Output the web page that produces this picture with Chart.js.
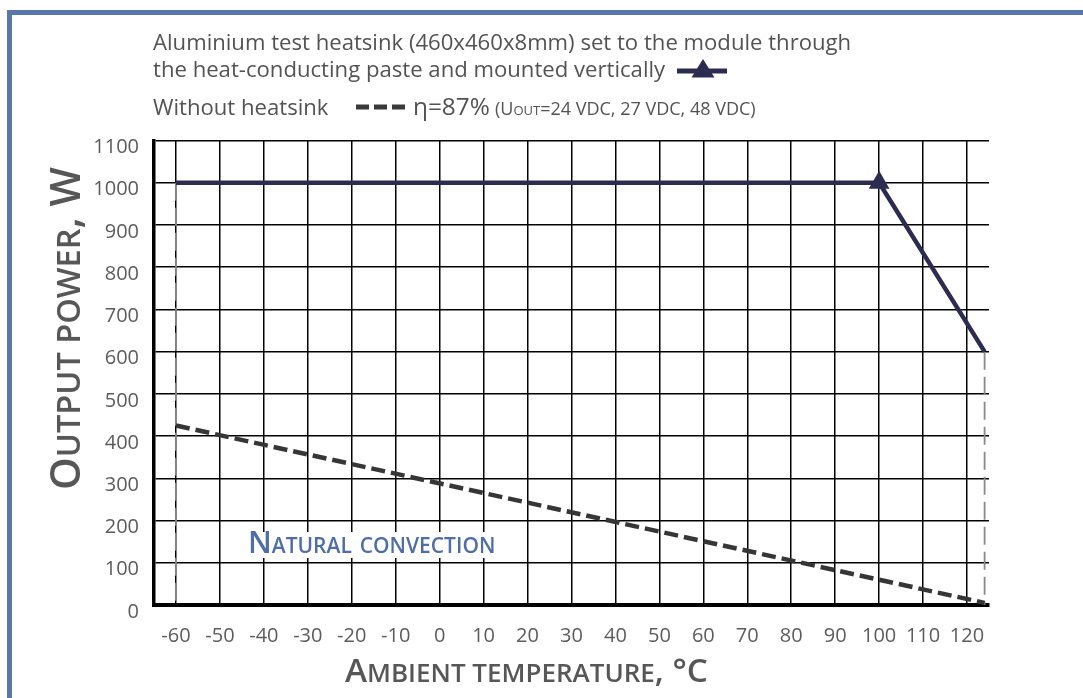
<!DOCTYPE html>
<html><head><meta charset="utf-8">
<script src="https://cdn.jsdelivr.net/npm/chart.js@4/dist/chart.umd.min.js"></script>
<style>
html,body{margin:0;padding:0;background:#fff;}
#wrap{position:relative;width:1083px;height:698px;overflow:hidden;background:#fff;}
#frame{position:absolute;left:7px;top:10px;width:2000px;height:2000px;border-left:5px solid #5877ab;border-top:5px solid #5877ab;box-sizing:border-box;}
canvas{position:absolute;left:0;top:0;}
.t{position:absolute;white-space:nowrap;font-family:'Open Sans',sans-serif;color:#535353;line-height:1;}
.mk{display:inline-block;width:0;height:0;}
.sc{font-variant:small-caps;}
.ttl{font-weight:600;color:#575757;}
.sm{font-size:0.78em;text-transform:uppercase;}
#yw{position:absolute;left:80px;top:490px;width:0;height:0;transform:rotate(-90deg);transform-origin:0 0;}
#ncbg{position:absolute;left:245px;top:532px;width:256px;height:26px;background:#fff;}
svg{position:absolute;overflow:visible;}
</style></head><body>
<div id="wrap">
<div id="frame"></div>
<canvas id="c" width="1083" height="698"></canvas>

<div class="t" id="h1">Aluminium test heatsink (460x460x8mm) set to the module through<span class="mk"></span></div>
<div class="t" id="h2">the heat-conducting paste and mounted vertically<span class="mk"></span></div>
<div class="t" id="h3">Without heatsink<span class="mk"></span></div>
<div class="t" id="h4">η=87%<span class="mk"></span></div>
<div class="t" id="h5">(U<span class="sc">out</span>=24 VDC, 27 VDC, 48 VDC)<span class="mk"></span></div>

<svg style="left:0;top:0" width="1" height="1">
  <line x1="677" y1="71" x2="727" y2="71" stroke="#2c2c50" stroke-width="5"/>
  <polygon points="703,59 691.5,77.5 714.5,77.5" fill="#2c2c50"/>
  <line x1="356" y1="107" x2="405" y2="107" stroke="#3a3a3a" stroke-width="5" stroke-dasharray="13 5"/>
</svg>

<div id="ncbg"></div>
<div class="t ttl sc" id="nc" style="color:#4f6ea8">Natural convection<span class="mk"></span></div>
<div class="t ttl" id="xt">A<span class="sm">mbient temperature</span>, °C<span class="mk"></span></div>
<div id="yw"><div class="t ttl" id="yt">O<span class="sm">utput power</span>, W<span class="mk"></span></div></div>
</div>

<script>
// ---- data ----
const xTickValues = [-60,-50,-40,-30,-20,-10,0,10,20,30,40,50,60,70,80,90,100,110,120];
const yTickValues = [0,100,200,300,400,500,600,700,800,900,1000,1100];
const heatsinkTemp  = [-60, 100, 124];
const heatsinkPower = [1000, 1000, 600];
const freeTemp  = [-60, 124];
const freePower = [425, 5];
const guideLeftTemp   = [-60, -60];
const guideLeftPower  = [1000, 0];
const guideRightTemp  = [124, 124];
const guideRightPower = [600, 0];

function pts(xs, ys){ return xs.map((x,i)=>({x:x, y:ys[i]})); }

const tickFont = {family:"'Open Sans', sans-serif", size:20};

new Chart(document.getElementById('c'), {
  type:'scatter',
  data:{datasets:[
    {data:pts(heatsinkTemp, heatsinkPower), showLine:true, borderColor:'#2c2c50', borderWidth:4.5,
     pointStyle:'triangle', pointRadius:[0,12,0], pointHoverRadius:0, pointBackgroundColor:'#2c2c50', pointBorderWidth:0},
    {data:pts(freeTemp, freePower), showLine:true, borderColor:'#363636', borderWidth:4.5, borderDash:[14,6], pointRadius:0, pointHoverRadius:0},
    {data:pts(guideLeftTemp, guideLeftPower), showLine:true, borderColor:'#8a8a8a', borderWidth:1.8, borderDash:[18,7], pointRadius:0, pointHoverRadius:0},
    {data:pts(guideRightTemp, guideRightPower), showLine:true, borderColor:'#8a8a8a', borderWidth:1.8, borderDash:[18,7], pointRadius:0, pointHoverRadius:0}
  ]},
  options:{
    responsive:false, animation:false, events:[],
    layout:{padding:{left:0, top:140.5, right:94, bottom:0}},
    plugins:{legend:{display:false}, tooltip:{enabled:false}},
    scales:{
      x:{type:'linear', min:-65, max:125,
         afterBuildTicks:s=>{ s.ticks = xTickValues.map(v=>({value:v})); },
         afterFit:s=>{ s.height = 93; },
         grid:{color:'#000', lineWidth:1.5, drawTicks:false},
         border:{display:true, color:'#000', width:4},
         ticks:{color:'#5c5c5c', font:tickFont, padding:19, maxRotation:0, autoSkip:false, callback:v=>String(v)}},
      y:{type:'linear', min:0, max:1100,
         afterBuildTicks:s=>{ s.ticks = yTickValues.map(v=>({value:v})); },
         afterFit:s=>{ s.width = 154; },
         grid:{color:'#000', lineWidth:1.5, drawTicks:false},
         border:{display:true, color:'#000', width:3.5},
         ticks:{color:'#5c5c5c', font:tickFont, padding:15, labelOffset:7, autoSkip:false, callback:v=>String(v)}}
    }
  }
});

// ---- text placement ----
function fit(el, w){ el.style.fontSize='100px'; const m=el.offsetWidth; const f=100*w/m; el.style.fontSize=f+'px'; return f; }
function place(el, x, base){ el.style.left=x+'px'; el.style.top='0px'; const b=el.querySelector('.mk').offsetTop; el.style.top=(base-b)+'px'; }
function layoutText(){
  const h1=document.getElementById('h1');
  const f=fit(h1, 699);
  ['h2','h3'].forEach(id=>document.getElementById(id).style.fontSize=f+'px');
  place(h1,153,50);
  place(document.getElementById('h2'),153,77);
  place(document.getElementById('h3'),153,115);
  const h4=document.getElementById('h4'); fit(h4,77); place(h4,413,115);
  const h5=document.getElementById('h5'); fit(h5,260); place(h5,495,115);
  const nc=document.getElementById('nc'); fit(nc,250); place(nc,248,553);
  const xt=document.getElementById('xt'); fit(xt,363); place(xt,345,682);
  const yt=document.getElementById('yt'); fit(yt,323); place(yt,0,0);
}
layoutText();
if (document.fonts && document.fonts.ready) document.fonts.ready.then(layoutText);
</script>
</body></html>
